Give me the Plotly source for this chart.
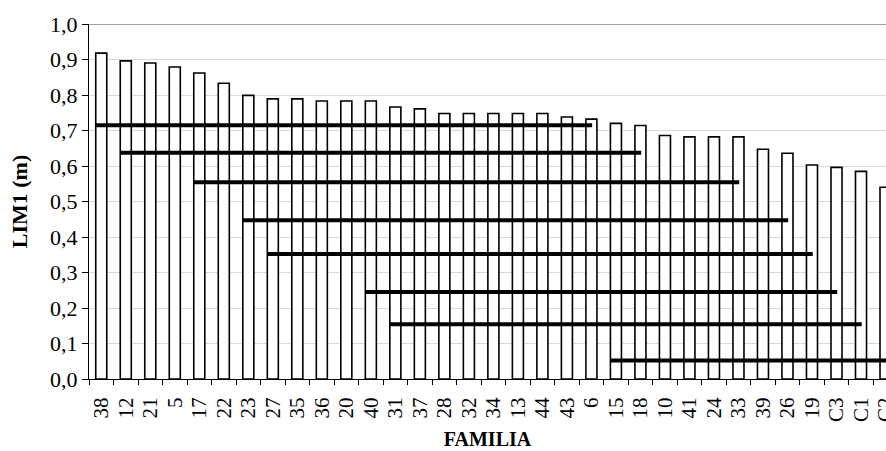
import plotly.graph_objects as go

# ---- data ----
categories = ["38", "12", "21", "5", "17", "22", "23", "27", "35", "36", "20",
              "40", "31", "37", "28", "32", "34", "13", "44", "43", "6", "15",
              "18", "10", "41", "24", "33", "39", "26", "19", "C3", "C1", "C2"]
lim1_values = [0.918, 0.896, 0.890, 0.879, 0.862, 0.833, 0.799, 0.789, 0.789,
               0.783, 0.783, 0.783, 0.766, 0.761, 0.748, 0.748, 0.748, 0.748,
               0.748, 0.738, 0.732, 0.720, 0.714, 0.686, 0.682, 0.682, 0.682,
               0.647, 0.636, 0.603, 0.596, 0.585, 0.540]

# grouping lines (start family, end family, level)
group_start = ["38", "12", "17", "23", "27", "40", "31", "15"]
group_end = ["6", "18", "33", "26", "19", "C3", "C1", "C2"]
group_level = [0.715, 0.637, 0.554, 0.447, 0.352, 0.245, 0.154, 0.052]

y_ticks = [0.0, 0.1, 0.2, 0.3, 0.4, 0.5, 0.6, 0.7, 0.8, 0.9, 1.0]

FONT = "Liberation Serif, Times New Roman, serif"
idx = list(range(len(categories)))

fig = go.Figure()
fig.add_trace(go.Bar(
    x=idx, y=lim1_values,
    marker=dict(color="white", line=dict(color="black", width=1.6)),
    width=0.45, showlegend=False, hoverinfo="skip",
))

START_OFF, END_OFF = -0.22, 0.03
for s, e, lev in zip(group_start, group_end, group_level):
    x0 = categories.index(s) + START_OFF
    x1 = categories.index(e) + END_OFF
    if e == categories[-1]:
        x1 = categories.index(e) + 1.0
    fig.add_trace(go.Scatter(
        x=[x0, x1], y=[lev, lev], mode="lines",
        line=dict(color="black", width=4), showlegend=False, hoverinfo="skip",
        cliponaxis=True,
    ))

# top border line at 1.0
fig.add_shape(type="line", xref="paper", yref="y", x0=0, x1=1, y0=1.0, y1=1.0,
              line=dict(color="#808080", width=1.5), layer="above")

fig.update_layout(
    width=886, height=451,
    margin=dict(l=89, r=0, t=24, b=72),
    plot_bgcolor="white", paper_bgcolor="white",
    separators=",.",
    font=dict(family=FONT, size=20, color="black"),
    bargap=0.55,
)
fig.update_xaxes(
    type="linear", automargin=False,
    range=[-0.5, 32.02],
    tickmode="array", tickvals=idx, ticktext=categories,
    tickangle=-90, ticks="", tickfont=dict(family=FONT, size=21),
    ticklabeloverflow="allow", ticklabelstandoff=9,
    showgrid=False, zeroline=False,
    showline=True, linecolor="black", linewidth=1.2,
    minor=dict(tick0=-0.5, dtick=1, ticks="outside", ticklen=5,
               tickcolor="black", tickwidth=1.2, showgrid=False),
    title=dict(text="<b>FAMILIA</b>", font=dict(family=FONT, size=20), standoff=10),
)
fig.update_yaxes(
    range=[0, 1.0], automargin=False,
    tickmode="array", tickvals=y_ticks, tickformat=".1f",
    ticks="outside", ticklen=6, tickcolor="black", tickwidth=1.2,
    tickfont=dict(family=FONT, size=22),
    showgrid=True, gridcolor="#d9d9d9", gridwidth=1.2,
    zeroline=False, showline=True, linecolor="black", linewidth=1.2,
    title=dict(text="<b>LIM1 (m)</b>", font=dict(family=FONT, size=22), standoff=16),
)

fig.write_html("out.html", config={"displayModeBar": False},
               post_script="document.body.style.margin='0';document.body.style.overflow='hidden';")
